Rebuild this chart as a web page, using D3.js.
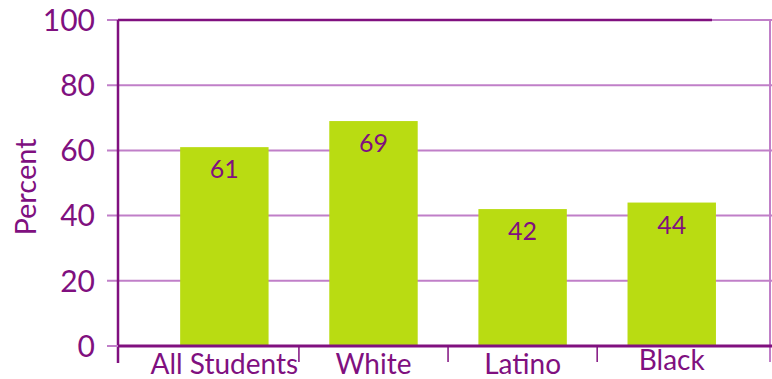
<!DOCTYPE html>
<html>
<head>
<meta charset="utf-8">
<script src="https://cdn.jsdelivr.net/npm/d3@7"></script>
<style>
  html, body { margin: 0; padding: 0; background: #fff; }
  svg { display: block; }
  text { font-family: Lato, "Open Sans", sans-serif; fill: #80107f; }
</style>
</head>
<body>
<svg id="chart" width="772" height="379"></svg>
<script>
// Share of students by group (percent)
const categories = ["All Students", "White", "Latino", "Black"];
const values = [61, 69, 42, 44];
const yTicks = [0, 20, 40, 60, 80, 100];
const yTitle = "Percent";

const W = 772, H = 379;
const plot = { left: 118, right: 770, top: 20, bottom: 346 };

const purple = "#80107f";
const gridColor = "#c07fc8";
const barColor = "#b9dc12";

const svg = d3.select("#chart");

const y = d3.scaleLinear().domain([0, 100]).range([plot.bottom, plot.top]);

const x = d3.scaleBand()
  .domain(categories)
  .range([149.8, 746.3])
  .paddingInner(0.407)
  .paddingOuter(0.2035);

// horizontal gridlines, with short ticks left of the axis
svg.append("g").selectAll("line")
  .data(yTicks.filter(t => t > 0))
  .join("line")
  .attr("x1", plot.left - 11)
  .attr("x2", W)
  .attr("y1", d => y(d))
  .attr("y2", d => y(d))
  .attr("stroke", gridColor)
  .attr("stroke-width", 2);

// dark top edge of the frame
svg.append("line")
  .attr("x1", plot.left).attr("x2", 712)
  .attr("y1", y(100)).attr("y2", y(100))
  .attr("stroke", purple).attr("stroke-width", 2.5);

// right edge of the frame
svg.append("line")
  .attr("x1", plot.right).attr("x2", plot.right)
  .attr("y1", y(100)).attr("y2", plot.bottom + 16)
  .attr("stroke", gridColor).attr("stroke-width", 2);

// y tick labels
svg.append("g").selectAll("text")
  .data(yTicks)
  .join("text")
  .attr("x", 95)
  .attr("y", d => y(d))
  .attr("dy", "0.36em")
  .attr("text-anchor", "end")
  .attr("font-size", 30)
  .text(d => d);

// y-axis title
svg.append("text")
  .attr("transform", `translate(36,187) rotate(-90)`)
  .attr("text-anchor", "middle")
  .attr("font-size", 29)
  .text(yTitle);

// bars
svg.append("g").selectAll("rect")
  .data(values)
  .join("rect")
  .attr("x", (d, i) => x(categories[i]))
  .attr("width", x.bandwidth())
  .attr("y", d => y(d))
  .attr("height", d => y(0) - y(d))
  .attr("fill", barColor);

// value labels inside the bars
svg.append("g").selectAll("text")
  .data(values)
  .join("text")
  .attr("x", (d, i) => x(categories[i]) + x.bandwidth() / 2)
  .attr("y", d => y(d) + 31)
  .attr("text-anchor", "middle")
  .attr("font-size", 25)
  .text(d => d);

// y axis line
svg.append("line")
  .attr("x1", plot.left).attr("x2", plot.left)
  .attr("y1", plot.top).attr("y2", plot.bottom + 17)
  .attr("stroke", purple).attr("stroke-width", 2.5);
svg.append("line")
  .attr("x1", plot.left - 11).attr("x2", plot.left)
  .attr("y1", y(0)).attr("y2", y(0))
  .attr("stroke", gridColor).attr("stroke-width", 2);

// x axis line
svg.append("line")
  .attr("x1", plot.left).attr("x2", W)
  .attr("y1", y(0)).attr("y2", y(0))
  .attr("stroke", purple).attr("stroke-width", 3);

// category separators between bands
const step = x.step();
const seps = categories.slice(1).map(c => x(c) - (step - x.bandwidth()) / 2);
svg.append("g").selectAll("line")
  .data(seps)
  .join("line")
  .attr("x1", d => d).attr("x2", d => d)
  .attr("y1", y(0)).attr("y2", y(0) + 16)
  .attr("stroke", purple).attr("stroke-width", 1.5);

// category labels
const labelLift = { "Black": 4 };
svg.append("g").selectAll("text")
  .data(categories)
  .join("text")
  .attr("x", d => x(d) + x.bandwidth() / 2)
  .attr("y", d => 374 - (labelLift[d] || 0))
  .attr("text-anchor", "middle")
  .attr("font-size", 28)
  .text(d => d);
</script>
</body>
</html>
